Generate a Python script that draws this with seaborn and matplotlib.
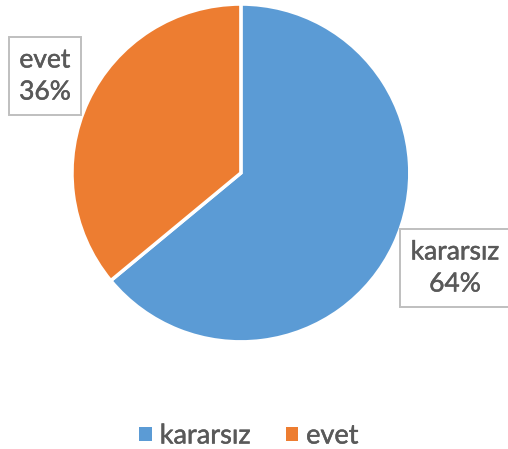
import matplotlib
matplotlib.use("Agg")
import matplotlib.pyplot as plt
import matplotlib.patheffects as pe
import seaborn as sns
from matplotlib.patches import Patch

categories = ["kararsız", "evet"]
values = [64, 36]
colors = sns.color_palette(["#5b9bd5", "#ed7d31"])

sns.set_theme(style="white")
plt.rcParams['font.family'] = ['Lato', 'DejaVu Sans']

fig = plt.figure(figsize=(5.08, 4.49), dpi=100)
ax = fig.add_axes([0.1417, 0.2383, 0.665, 0.753])
wedges, _ = ax.pie(values, colors=colors, startangle=90, counterclock=False,
                   wedgeprops=dict(edgecolor="white", linewidth=2.5))
ax.set_aspect("equal")
ax.set_xlim(-1, 1)
ax.set_ylim(-1, 1)

thick = [pe.withStroke(linewidth=0.35, foreground="#595959")]
boxstyle = dict(boxstyle="square,pad=0.4", facecolor="white", edgecolor="#bfbfbf", linewidth=1.4)
total = sum(values)
label_pos = {"kararsız": (455 / 508, 1 - 268 / 449), "evet": (45 / 508, 1 - 76 / 449)}
for cat, v in zip(categories, values):
    x, y = label_pos[cat]
    fig.text(x, y, f"{cat}\n{round(100 * v / total)}%", ha="center", va="center",
             fontsize=19, color="#595959", linespacing=1.35, bbox=boxstyle,
             path_effects=thick)

handles = [Patch(facecolor=c, edgecolor="none") for c in colors]
leg = fig.legend(handles, categories, loc="center", bbox_to_anchor=(0.49, 1 - 436 / 449),
                 ncol=2, frameon=False, handlelength=0.45, handleheight=0.45,
                 handletextpad=0.3, columnspacing=1.3, labelcolor="#595959",
                 prop=dict(family=['Lato', 'DejaVu Sans'], size=19.5))
for t in leg.get_texts():
    t.set_path_effects(thick)

fig.savefig("out.png", dpi=100)
